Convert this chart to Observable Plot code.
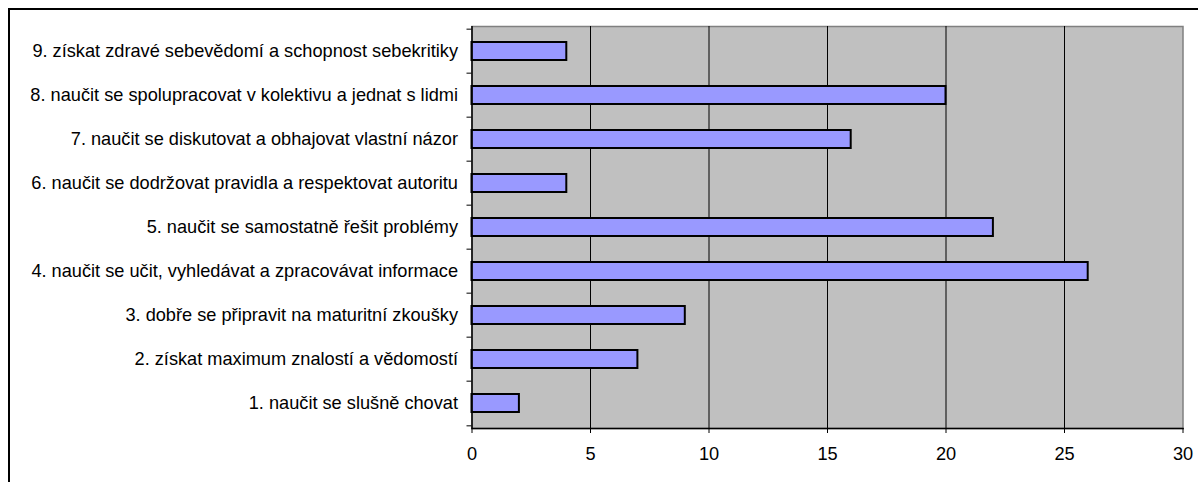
<!DOCTYPE html>
<html>
<head>
<meta charset="utf-8">
<script src="https://cdn.jsdelivr.net/npm/d3@7"></script>
<script src="https://cdn.jsdelivr.net/npm/@observablehq/plot@0.6"></script>
<style>
  html, body { margin: 0; padding: 0; background: #fff; }
  #wrap { position: relative; width: 1198px; height: 482px; overflow: hidden; }
  #wrap svg { position: absolute; left: 0; top: 0; }
  #border { position: absolute; left: 8px; top: 8px; width: 1200px; height: 480px; border: 2px solid #000; pointer-events: none; }
</style>
</head>
<body>
<div id="wrap"><div id="border"></div></div>
<script>
const categories = [
  "1. naučit se slušně chovat",
  "2. získat maximum znalostí a vědomostí",
  "3. dobře se připravit na maturitní zkoušky",
  "4. naučit se učit, vyhledávat a zpracovávat informace",
  "5. naučit se samostatně řešit problémy",
  "6. naučit se dodržovat pravidla a respektovat autoritu",
  "7. naučit se diskutovat a obhajovat vlastní názor",
  "8. naučit se spolupracovat v kolektivu a jednat s lidmi",
  "9. získat zdravé sebevědomí a schopnost sebekritiky"
];
const values = [2, 7, 9, 26, 22, 4, 16, 20, 4];
const xTicks = [0, 5, 10, 15, 20, 25, 30];
const gridTicks = [5, 10, 15, 20, 25];

const data = categories.map((c, i) => ({category: c, value: values[i]}));

const W = 1198, H = 482;
const mTop = 26, mBottom = 54, mLeft = 471.5, mRight = 15.5;
const step = (H - mTop - mBottom) / categories.length;

const chart = Plot.plot({
  width: W,
  height: H,
  marginTop: mTop,
  marginBottom: mBottom,
  marginLeft: mLeft,
  marginRight: mRight,
  style: {fontFamily: "'Liberation Sans', Arial, sans-serif", fontSize: "18.2px", color: "#000", background: "transparent", overflow: "visible"},
  x: {domain: [0, 30]},
  y: {domain: categories.slice().reverse(), paddingInner: 0.6, paddingOuter: 0.3},
  marks: [
    Plot.frame({fill: "#c0c0c0", stroke: "#808080", strokeWidth: 1.5}),
    Plot.gridX(gridTicks, {stroke: "#000", strokeOpacity: 1, strokeWidth: 1}),
    Plot.barX(data, {x: "value", y: "category", fill: "#9999ff", stroke: "#000", strokeWidth: 2}),
    Plot.ruleX([0], {stroke: "#000", strokeWidth: 1.5}),
    Plot.frame({anchor: "bottom", stroke: "#000", strokeWidth: 1.5}),
    Plot.ruleY(categories, {y: d => d, x1: 0, x2: 0, dy: -step / 2, insetLeft: -5, stroke: "#000"}),
    Plot.ruleY(categories.slice(0, 1), {y: d => d, x1: 0, x2: 0, dy: step / 2, insetLeft: -5, stroke: "#000"}),
    Plot.axisX(xTicks, {tickSize: 5, tickPadding: 14, label: null, stroke: "#000", fill: "#000"}),
    Plot.axisY({tickSize: 0, tickPadding: 14, label: null, fill: "#000"})
  ]
});
document.getElementById("wrap").prepend(chart);
</script>
</body>
</html>
